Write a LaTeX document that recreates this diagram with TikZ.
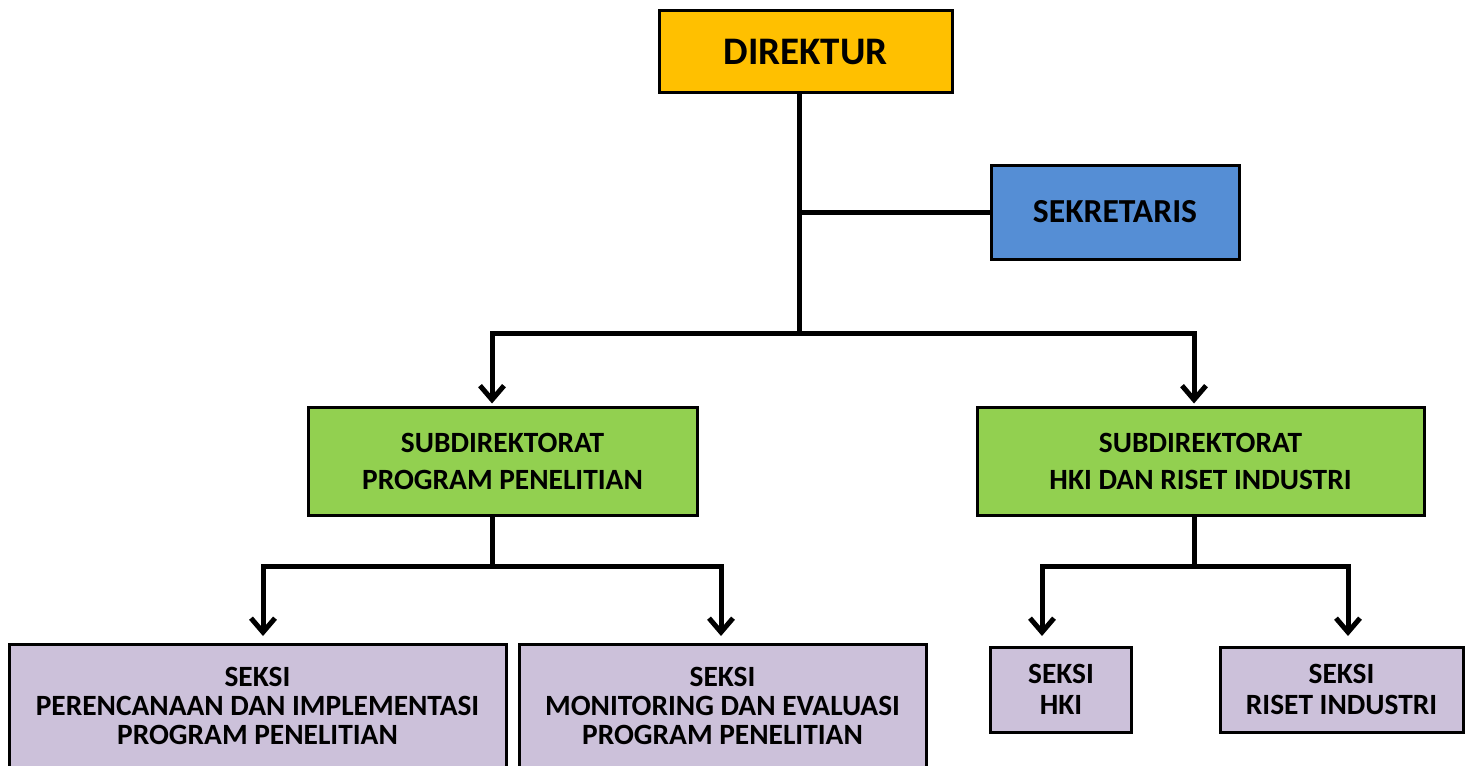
\documentclass[tikz,border=0pt]{standalone}
\usepackage{fontspec}
\setmainfont{Carlito}
\usetikzlibrary{arrows.meta}
\definecolor{kuning}{HTML}{FFC000}
\definecolor{biru}{HTML}{558ED5}
\definecolor{hijau}{HTML}{92D050}
\definecolor{ungu}{HTML}{CCC1DA}
\begin{document}
\begin{tikzpicture}
		[x=0.5pt,y=-0.5pt,
		kotak/.style={draw=black,line width=1.5pt,align=center,
			inner sep=0pt,font=\bfseries},
		garis/.style={line width=2.5pt},
		panah/.style={garis,-{Straight Barb[length=7pt,width=12pt,line width=2.5pt]}}]
		\useasboundingbox (0,0) rectangle (1470,765);
		\clip (0,0) rectangle (1470,765);
		\node[kotak,fill=kuning,minimum width=146.5pt,minimum height=41pt,
			font=\bfseries\fontsize{19.5}{24}\selectfont] (dir) at (805.5,52) {DIREKTUR};
		\node[kotak,fill=biru,minimum width=124pt,minimum height=47pt,
			font=\bfseries\fontsize{16.8}{18}\selectfont] (sek) at (1115,212) {SEKRETARIS};
		\node[kotak,fill=hijau,minimum width=194.5pt,minimum height=54pt,
			font=\bfseries\fontsize{14.7}{18.5}\selectfont] (sub1) at (502.5,461)
			{SUBDIREKTORAT\\PROGRAM PENELITIAN};
		\node[kotak,fill=hijau,minimum width=223.5pt,minimum height=54pt,
			font=\bfseries\fontsize{14.7}{18.5}\selectfont] (sub2) at (1200.5,461)
			{SUBDIREKTORAT\\HKI DAN RISET INDUSTRI};
		\node[kotak,fill=ungu,minimum width=248.5pt,minimum height=62pt,
			font=\bfseries\fontsize{14.7}{14.4}\selectfont] (s1) at (257.5,706)
			{SEKSI\\PERENCANAAN DAN IMPLEMENTASI\\PROGRAM PENELITIAN};
		\node[kotak,fill=ungu,minimum width=203.5pt,minimum height=62pt,
			font=\bfseries\fontsize{14.7}{14.4}\selectfont] (s2) at (722.5,706)
			{SEKSI\\MONITORING DAN EVALUASI\\PROGRAM PENELITIAN};
		\node[kotak,fill=ungu,minimum width=70.5pt,minimum height=42.5pt,
			font=\bfseries\fontsize{14.7}{15.5}\selectfont] (s3) at (1061,689.5)
			{SEKSI\\HKI};
		\node[kotak,fill=ungu,minimum width=121.5pt,minimum height=42.5pt,
			font=\bfseries\fontsize{14.7}{15.5}\selectfont] (s4) at (1341.5,689.5)
			{SEKSI\\RISET INDUSTRI};
		\coordinate (pusat) at (799,333);
		\coordinate (cab1) at (492,566);
		\coordinate (cab2) at (1194,566);
		\draw[garis] (dir.south -| pusat) -- (pusat);
		\draw[garis] (sek.west) -- (sek.west -| pusat);
		\draw[panah] (pusat) -| ([yshift=1pt]sub1.north -| cab1);
		\draw[panah] (pusat) -| ([yshift=1pt]sub2.north -| cab2);
		\draw[garis] (sub1.south -| cab1) -- (cab1);
		\draw[garis] (sub2.south -| cab2) -- (cab2);
		\draw[panah] (cab1) -| (263,636);
		\draw[panah] (cab1) -| (721,636);
		\draw[panah] (cab2) -| (1042,636);
		\draw[panah] (cab2) -| (1348,636);
	\end{tikzpicture}
\end{document}
